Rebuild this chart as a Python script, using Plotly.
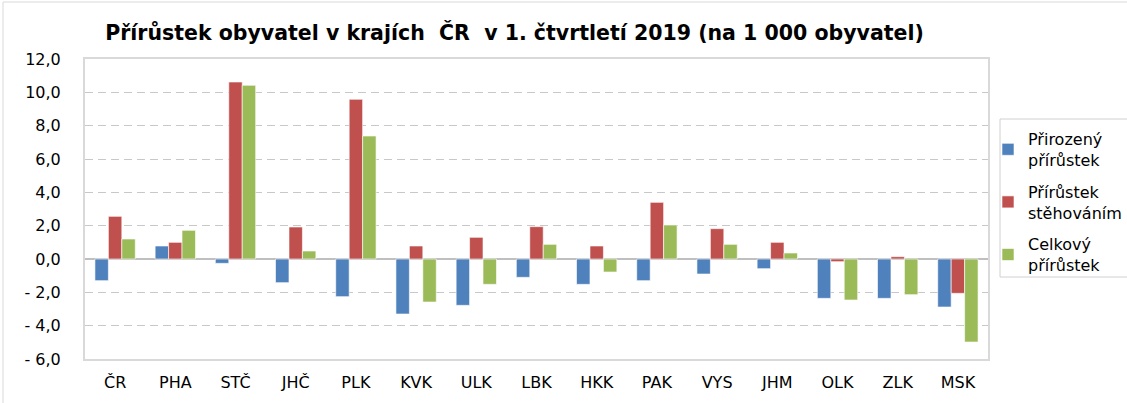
import plotly.graph_objects as go

categories = ["ČR", "PHA", "STČ", "JHČ", "PLK", "KVK", "ULK", "LBK", "HKK", "PAK", "VYS", "JHM", "OLK", "ZLK", "MSK"]
prirozeny = [-1.3, 0.78, -0.26, -1.42, -2.26, -3.3, -2.78, -1.1, -1.52, -1.3, -0.9, -0.58, -2.36, -2.36, -2.88]
stehovanim = [2.56, 1.0, 10.62, 1.92, 9.58, 0.78, 1.3, 1.94, 0.78, 3.4, 1.82, 1.0, -0.16, 0.14, -2.06]
celkovy = [1.2, 1.72, 10.42, 0.48, 7.38, -2.58, -1.52, 0.88, -0.78, 2.04, 0.88, 0.36, -2.46, -2.14, -4.98]

series_names = ["Přirozený<br>přírůstek", "Přírůstek<br>stěhováním", "Celkový<br>přírůstek"]
series_colors = ["#4F81BD", "#C0504D", "#9BBB59"]

tick_vals = [-6, -4, -2, 0, 2, 4, 6, 8, 10, 12]
tick_text = ["- 6,0", "- 4,0", "- 2,0", "0,0", "2,0", "4,0", "6,0", "8,0", "10,0", "12,0"]

title_text = "Přírůstek obyvatel v krajích  ČR  v 1. čtvrtletí 2019 (na 1 000 obyvatel)"

FONT = "DejaVu Sans"
W, H = 1127, 403
ML, MR, MT, MB = 85, 139, 59, 44
PW, PH = W - ML - MR, H - MT - MB

fig = go.Figure()
for i, (name, vals, col) in enumerate(zip(series_names, [prirozeny, stehovanim, celkovy], series_colors)):
    fig.add_trace(go.Bar(
        x=categories, y=vals, name=name, legendgroup="g%d" % i,
        marker=dict(color=col, line=dict(color="rgba(255,255,255,0.6)", width=1)),
    ))

fig.update_layout(
    width=W, height=H,
    margin=dict(l=ML, r=MR, t=MT, b=MB, autoexpand=False),
    paper_bgcolor="white", plot_bgcolor="white",
    barmode="group", bargap=0.33, bargroupgap=0,
    font=dict(family=FONT, size=16, color="#000000"),
    title=dict(text="<b>" + title_text + "</b>", x=514.5 / W, xanchor="center",
               y=1 - 33 / H, yanchor="middle",
               font=dict(family=FONT, size=20.5, color="#000000")),
    showlegend=True,
    legend=dict(xref="container", yref="container",
                x=988 / W, xanchor="left", y=1 - 122 / H, yanchor="top",
                borderwidth=0, bgcolor="rgba(0,0,0,0)",
                font=dict(family=FONT, size=16, color="#000000"),
                tracegroupgap=8, itemwidth=30),
    xaxis=dict(showline=True, linecolor="#D9D9D9", linewidth=2, mirror=True,
               ticks="", tickfont=dict(size=16), showgrid=False,
               ticklabelstandoff=8, range=[-0.5, 14.5]),
    yaxis=dict(range=[-6, 12], tickvals=tick_vals, ticktext=tick_text,
               showgrid=True, gridcolor="#C8C8C8", griddash="8px,5px", gridwidth=1,
               zeroline=True, zerolinecolor="#BFBFBF", zerolinewidth=2,
               showline=True, linecolor="#D9D9D9", linewidth=2, mirror=True,
               ticks="", tickfont=dict(size=16), ticklabelstandoff=19),
)

# outer chart border
fig.add_shape(type="rect", xref="paper", yref="paper",
              x0=(3 - ML) / PW, x1=(W + 5 - ML) / PW,
              y0=-(MB + 5) / PH, y1=(H - MB - 2) / PH,
              line=dict(color="#D9D9D9", width=1), fillcolor="rgba(0,0,0,0)", layer="below")

# legend frame
fig.add_shape(type="rect", xref="paper", yref="paper",
              x0=(1000 - ML) / PW, x1=(W + 5 - ML) / PW,
              y0=(H - MB - 277) / PH, y1=(H - MB - 119) / PH,
              line=dict(color="#D0D0D0", width=1), fillcolor="rgba(0,0,0,0)", layer="below")

fig.write_html("out.html", config={"displayModeBar": False},
               post_script="document.body.style.margin='0px';document.body.style.overflow='hidden';")
